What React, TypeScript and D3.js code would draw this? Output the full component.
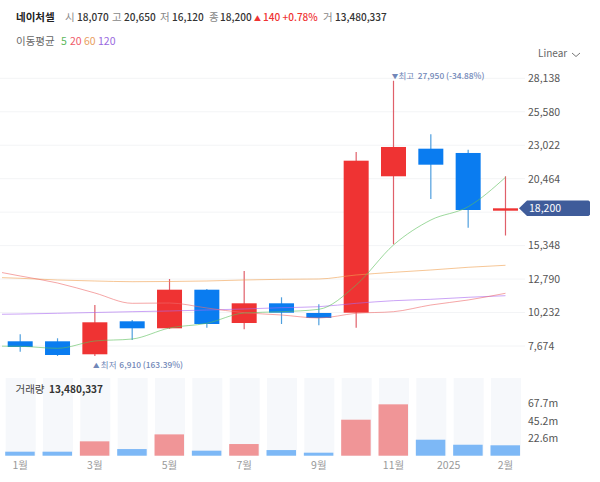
import React, { useEffect, useRef } from 'react';
import * as d3 from 'd3';

const months = ['1월', '', '3월', '', '5월', '', '7월', '', '9월', '', '11월', '', '2025', '2월'];

const opens = [8033, 8033, 7040, 9562, 9027, 11978, 9432, 10938, 10197, 10220, 20648, 22757, 22429, 18070];
const closes = [7598, 6986, 9486, 9027, 11978, 9356, 10938, 10220, 9815, 21840, 22888, 21534, 18071, 18200];
const highs = [8568, 8263, 10808, 9662, 12796, 12032, 13408, 11397, 10862, 22505, 27950, 23858, 22681, 20650];
const lows = [7238, 6910, 6910, 8133, 8990, 9073, 8951, 9356, 9257, 9073, 15449, 18912, 16718, 16120];
const volumes = [5.2, 5.2, 18.6, 8.6, 27.6, 6.5, 15.1, 7.3, 3.9, 46.6, 66.5, 20.7, 14.2, 13.48];
const volumeUp = [false, false, true, false, true, false, true, false, false, true, true, false, false, false];

// first value of each average belongs to the month before the visible range
const ma5 = [7674, 7651, 7498, 8056, 8209, 9050, 9409, 10197, 10296, 10480, 12337, 15395, 17307, 18323, 20571];
const ma20 = [13561, 13026, 12490, 11726, 10938, 10961, 10579, 10220, 10044, 9815, 10174, 10296, 10808, 11191, 11703];
const ma60 = [12949, 12850, 12720, 12643, 12590, 12605, 12643, 12720, 12773, 12796, 13102, 13308, 13484, 13691, 13844];
const ma120 = [10082, 10120, 10174, 10235, 10296, 10350, 10426, 10503, 10602, 10678, 10938, 11137, 11244, 11397, 11519];

const gridTicks = [7674, 10232, 12790, 15348, 17906, 20464, 23022, 25580, 28138];
const priceTicks = [7674, 10232, 12790, 15348, 20464, 23022, 25580, 28138];
const volumeTicks = [22.6, 45.2, 67.7];

const summary = [
  ['시', '18,070', 65, 77],
  ['고', '20,650', 112, 124],
  ['저', '16,120', 160, 172],
  ['종', '18,200', 209, 220],
  ['거', '13,480,337', 323, 335],
];
const maLegend = [
  ['5', '#5cb85c', 61],
  ['20', '#ef5a6a', 70],
  ['60', '#e8a060', 84],
  ['120', '#9a6ae0', 98],
];

const UP = '#ef3333';
const DOWN = '#0a7cf0';
const FONT = '"Noto Sans CJK KR", "Noto Sans", sans-serif';

const App = () => {
  const svgRef = useRef<SVGSVGElement>(null);

  useEffect(() => {
    const svg = d3.select(svgRef.current);
    svg.selectAll('*').remove();
    svg.style('font-family', FONT);

    const step = 37.33;
    const x = (i: number) => 20.2 + i * step;
    const y = d3.scaleLinear().domain([7674, 28138]).range([346, 78.3]);
    const yVol = d3.scaleLinear().domain([0, 100.6]).range([455.7, 378]);

    // grid
    svg.append('g').selectAll('line').data(gridTicks).join('line')
      .attr('x1', 0).attr('x2', 525)
      .attr('y1', (d) => y(d)).attr('y2', (d) => y(d))
      .attr('stroke', '#f3f4f6');

    const plot = svg.append('g').attr('clip-path', 'url(#plot-clip)');
    svg.append('clipPath').attr('id', 'plot-clip')
      .append('rect').attr('x', 2).attr('y', 60).attr('width', 523).attr('height', 310);

    // candles
    const candles = plot.append('g').selectAll('g').data(opens).join('g');
    candles.append('line')
      .attr('x1', (_, i) => x(i)).attr('x2', (_, i) => x(i))
      .attr('y1', (_, i) => y(highs[i])).attr('y2', (_, i) => y(lows[i]))
      .attr('stroke', (_, i) => (closes[i] >= opens[i] ? '#e0606a' : '#4f9fde'))
      .attr('stroke-width', 1.2);
    candles.append('rect')
      .attr('x', (_, i) => x(i) - 12.5)
      .attr('width', 25)
      .attr('y', (_, i) => y(Math.max(opens[i], closes[i])))
      .attr('height', (_, i) => Math.max(2.4, Math.abs(y(opens[i]) - y(closes[i]))))
      .attr('fill', (_, i) => (closes[i] >= opens[i] ? UP : DOWN));

    // moving averages, drawn over the candles
    const maLine = d3.line<number>()
      .x((_, i) => x(i - 1))
      .y((d) => y(d))
      .curve(d3.curveMonotoneX);
    const averages: [number[], string][] = [
      [ma60, '#f0a050'],
      [ma120, '#a868f0'],
      [ma20, '#ef6a6a'],
      [ma5, '#5cc05c'],
    ];
    averages.forEach(([values, color]) => {
      plot.append('path')
        .attr('d', maLine(values))
        .attr('fill', 'none')
        .attr('stroke', color)
        .attr('stroke-opacity', 0.6)
        .attr('stroke-width', 1);
    });

    // high / low notes
    const noteColor = '#7187b8';
    const note = (tx: number, ty: number, mark: string, label: string, lx: number, value: string, vx: number) => {
      svg.append('text').attr('x', tx).attr('y', ty).attr('font-size', 6.5).attr('fill', noteColor).text(mark);
      svg.append('text').attr('x', lx).attr('y', ty).attr('font-size', 8.5).attr('fill', noteColor).text(label);
      svg.append('text').attr('x', vx).attr('y', ty).attr('font-size', 8.4).attr('font-weight', 500)
        .attr('fill', noteColor).text(value);
    };
    note(x(10) - 1.8, y(27950) - 2, '▼', '최고', x(10) + 5, '27,950 (-34.88%)', x(10) + 24.3);
    note(x(2) - 1.8, y(6910) + 12.5, '▲', '최저', x(2) + 6, '6,910 (163.39%)', x(2) + 24.5);

    // price axis
    const axis = d3.axisRight(y)
      .tickValues(priceTicks)
      .tickSize(0)
      .tickPadding(0)
      .tickFormat((d) => d3.format(',')(d as number));
    const axisG = svg.append('g').attr('transform', 'translate(528,0)').call(axis);
    axisG.select('.domain').remove();
    axisG.selectAll('text').attr('font-size', 10.5).attr('font-family', FONT).attr('fill', '#555');

    // last price tag
    const tagY = y(closes[13]);
    svg.append('path')
      .attr('d', d3.line()([[519, tagY], [527, tagY - 7.8], [588.5, tagY - 7.8], [590, tagY - 6.5], [590, tagY + 6.5], [588.5, tagY + 7.8], [527, tagY + 7.8]]) + 'Z')
      .attr('fill', '#3f5c9a');
    svg.append('text').attr('x', 529).attr('y', tagY + 3.8)
      .attr('font-size', 10.5).attr('fill', '#fff').text('18,200');

    // volume panel
    const vol = svg.append('g');
    vol.selectAll('rect.bg').data(volumes).join('rect').attr('class', 'bg')
      .attr('x', (_, i) => x(i) - 14.5).attr('width', 30)
      .attr('y', yVol(100.6)).attr('height', yVol(0) - yVol(100.6))
      .attr('fill', '#f6f8fb');
    vol.selectAll('rect.bar').data(volumes).join('rect').attr('class', 'bar')
      .attr('x', (_, i) => x(i) - 15).attr('width', 29.5)
      .attr('y', (d) => yVol(d)).attr('height', (d) => yVol(0) - yVol(d))
      .attr('fill', (_, i) => (volumeUp[i] ? '#f09597' : '#7db8f6'));

    const volAxis = d3.axisRight(yVol)
      .tickValues(volumeTicks)
      .tickSize(0)
      .tickPadding(0)
      .tickFormat((d) => `${d}m`);
    const volAxisG = svg.append('g').attr('transform', 'translate(528,0)').call(volAxis);
    volAxisG.select('.domain').remove();
    volAxisG.selectAll('text').attr('font-size', 10.5).attr('font-family', FONT).attr('fill', '#555');

    svg.append('text').attr('x', 15.5).attr('y', 393).attr('font-size', 10.5).attr('fill', '#444').text('거래량');
    svg.append('text').attr('x', 49).attr('y', 393).attr('font-size', 10.05).attr('font-weight', 700)
      .attr('fill', '#333').text('13,480,337');

    // month labels
    svg.append('g').selectAll('text').data(months).join('text')
      .attr('x', (_, i) => (months[i] === '2025' ? x(i) - 19.5 : x(i)))
      .attr('y', 469)
      .attr('text-anchor', 'middle')
      .attr('font-size', 10.5)
      .attr('fill', '#999')
      .text((d) => d);

    // header
    svg.append('text').attr('x', 16).attr('y', 21).attr('font-size', 10.5)
      .attr('font-weight', 700).attr('fill', '#222').text('네이처셀');
    summary.forEach(([label, value, lx, vx]) => {
      svg.append('text').attr('x', lx).attr('y', 21).attr('font-size', 10.5).attr('fill', '#888').text(label);
      svg.append('text').attr('x', vx).attr('y', 21).attr('font-size', 10.05)
        .attr('font-weight', 500).attr('fill', '#333').text(value);
    });
    svg.append('text').attr('x', 254).attr('y', 20.5).attr('font-size', 7).attr('fill', UP).text('▲');
    svg.append('text').attr('x', 263).attr('y', 21).attr('font-size', 10.05)
      .attr('font-weight', 500).attr('fill', UP).text('140 +0.78%');

    svg.append('text').attr('x', 16).attr('y', 45).attr('font-size', 10.5).attr('fill', '#666').text('이동평균');
    maLegend.forEach(([label, color, lx]) => {
      svg.append('text').attr('x', lx).attr('y', 45).attr('font-size', 10.5).attr('fill', color).text(label);
    });

    // scale selector
    svg.append('text').attr('x', 538).attr('y', 57).attr('font-size', 10).attr('fill', '#666').text('Linear');
    svg.append('path')
      .attr('d', d3.line()([[572, 53], [576, 56.5], [580, 53]]))
      .attr('fill', 'none').attr('stroke', '#777');
  }, []);

  return <svg ref={svgRef} width={600} height={482} style={{ position: 'absolute', left: 0, top: 0, background: '#fff' }} />;
};

export default App;
